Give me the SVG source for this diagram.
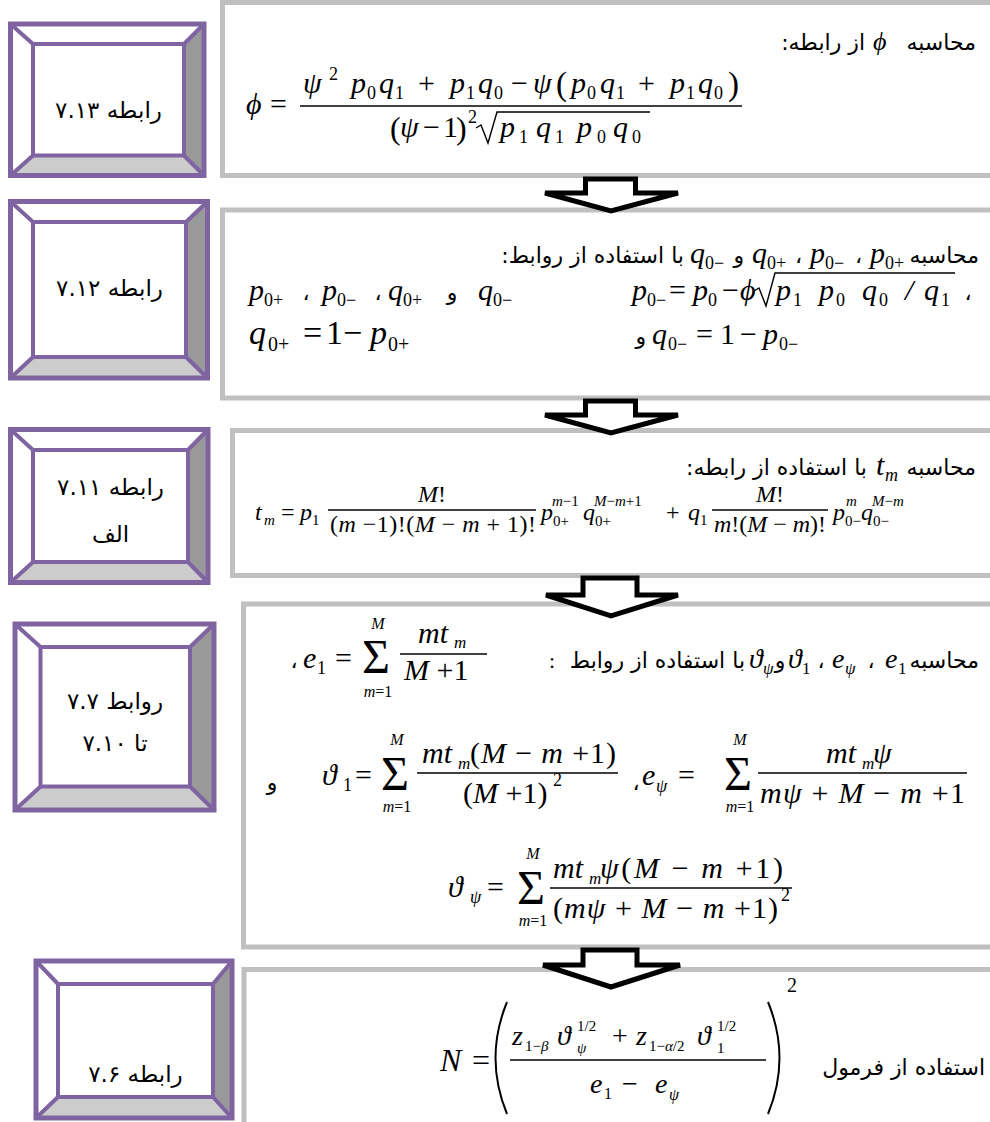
<svg xmlns="http://www.w3.org/2000/svg" width="990" height="1122" viewBox="0 0 990 1122">
<style>
.box{fill:#fff;stroke:#c0c0c0;stroke-width:5}
.arr{fill:#fff;stroke:#000;stroke-width:5;stroke-linejoin:miter}
.pv{stroke:#8064a2;stroke-width:4;fill:none}
.po{stroke:#8064a2;stroke-width:5;fill:none}
.dk{fill:#999}
.lt{fill:#ccc}
.fa{font-family:"DejaVu Sans",sans-serif;font-size:22px;fill:#000}
.lb{font-family:"DejaVu Sans",sans-serif;font-size:23px;fill:#000;text-anchor:middle}
.mi{font-family:"Liberation Serif",serif;font-style:italic;fill:#000}
.mn{font-family:"Liberation Serif",serif;font-style:normal;fill:#000}
.bar{stroke:#000;stroke-width:1.4}
.rad{fill:none;stroke:#000;stroke-width:1.4}
</style>
<rect width="990" height="1122" fill="#fff"/>
<g id="nodeA"><rect class="box" x="222.5" y="2.5" width="772" height="173"/>
<text class="fa" x="976" y="50" text-anchor="end">محاسبه</text>
<text class="mi" x="873" y="50" font-size="26">ϕ</text>
<text class="fa" x="865" y="50" text-anchor="end">از رابطه:‏</text>
<g font-size="30">
<text class="mi" x="246" y="114">ϕ</text><text class="mn" x="270" y="114">=</text>
<text class="mi" y="93"><tspan x="303">ψ</tspan><tspan x="351">p</tspan><tspan x="379">q</tspan><tspan x="450">p</tspan><tspan x="478">q</tspan><tspan x="533">ψ</tspan><tspan x="571">p</tspan><tspan x="600">q</tspan><tspan x="670">p</tspan><tspan x="698">q</tspan></text>
<text class="mn" y="93"><tspan x="418">+</tspan><tspan x="511">−</tspan><tspan x="638">+</tspan></text>
<text class="mn" y="95" font-size="33"><tspan x="556">(</tspan><tspan x="728">)</tspan></text>
<text class="mn" font-size="18"><tspan x="329" y="80">2</tspan><tspan x="367" y="99">0</tspan><tspan x="395" y="99">1</tspan><tspan x="466" y="99">1</tspan><tspan x="494" y="99">0</tspan><tspan x="587" y="99">0</tspan><tspan x="616" y="99">1</tspan><tspan x="686" y="99">1</tspan><tspan x="714" y="99">0</tspan></text>
<line class="bar" x1="300" y1="106" x2="742" y2="106"/>
<text class="mn" y="139" font-size="32"><tspan x="390">(</tspan><tspan x="456">)</tspan></text>
<text class="mi" y="137"><tspan x="400">ψ</tspan><tspan x="500">p</tspan><tspan x="536">q</tspan><tspan x="577">p</tspan><tspan x="613">q</tspan></text>
<text class="mn" y="137"><tspan x="423">−</tspan><tspan x="443">1</tspan></text>
<text class="mn" font-size="18"><tspan x="468" y="123">2</tspan><tspan x="519" y="143">1</tspan><tspan x="555" y="143">1</tspan><tspan x="597" y="143">0</tspan><tspan x="632" y="143">0</tspan></text>
<path class="rad" d="M476,128 L481,125 L488,143 L497,112 L650,112"/>
</g></g>
<g id="nodeB"><rect class="box" x="222.5" y="210" width="772" height="188"/>
<text class="fa" x="979" y="263" text-anchor="end">محاسبه</text>
<text class="mi" y="263" font-size="30"><tspan x="870">p</tspan><tspan x="810">p</tspan><tspan x="752">q</tspan><tspan x="690">q</tspan></text>
<text class="mn" y="269" font-size="18"><tspan x="885">0+</tspan><tspan x="825">0−</tspan><tspan x="767">0+</tspan><tspan x="705">0−</tspan></text>
<text class="fa" x="862" y="263" text-anchor="end">،</text>
<text class="fa" x="802" y="263" text-anchor="end">،</text>
<text class="fa" x="744" y="263" text-anchor="end">و</text>
<text class="fa" x="684" y="263" text-anchor="end">با استفاده از روابط:‏</text>
<text class="mi" y="300" font-size="30"><tspan x="249">p</tspan><tspan x="322">p</tspan><tspan x="388">q</tspan><tspan x="478">q</tspan></text>
<text class="mn" y="306" font-size="18"><tspan x="264">0+</tspan><tspan x="337">0−</tspan><tspan x="403">0+</tspan><tspan x="493">0−</tspan></text>
<text class="fa" y="300" text-anchor="middle"><tspan x="306">،</tspan><tspan x="378">،</tspan><tspan x="452">و</tspan></text>
<text class="mi" y="300" font-size="30"><tspan x="632">p</tspan><tspan x="693">p</tspan><tspan x="740">ϕ</tspan><tspan x="776">p</tspan><tspan x="819">p</tspan><tspan x="862">q</tspan><tspan x="905">/</tspan><tspan x="924">q</tspan></text>
<text class="mn" y="300" font-size="30"><tspan x="669">=</tspan><tspan x="722">−</tspan></text>
<text class="mn" y="306" font-size="18"><tspan x="647">0−</tspan><tspan x="708">0</tspan><tspan x="793">1</tspan><tspan x="836">0</tspan><tspan x="879">0</tspan><tspan x="941">1</tspan></text>
<path class="rad" d="M754,291 L759,288 L766,306 L775,273 L955,273"/>
<text class="fa" x="968" y="300" text-anchor="middle">،</text>
<text class="mi" y="344" font-size="34"><tspan x="249">q</tspan><tspan x="370">p</tspan></text>
<text class="mn" y="344" font-size="34"><tspan x="303">=</tspan><tspan x="326">1</tspan><tspan x="343">−</tspan></text>
<text class="mn" y="351" font-size="20"><tspan x="268">0+</tspan><tspan x="388">0+</tspan></text>
<text class="fa" x="646" y="344" text-anchor="end">و</text>
<text class="mi" y="344" font-size="30"><tspan x="652">q</tspan><tspan x="763">p</tspan></text>
<text class="mn" y="344" font-size="30"><tspan x="696">=</tspan><tspan x="720">1</tspan><tspan x="740">−</tspan></text>
<text class="mn" y="350" font-size="18"><tspan x="668">0−</tspan><tspan x="779">0−</tspan></text>
</g>
<g id="nodeC"><rect class="box" x="232.5" y="430.5" width="762" height="145"/>
<text class="fa" x="976" y="475" text-anchor="end">محاسبه</text>
<text class="mi" x="876" y="475" font-size="30">t</text><text class="mi" x="885" y="481" font-size="18">m</text>
<text class="fa" x="867" y="475" text-anchor="end">با استفاده از رابطه:‏</text>
<g font-size="24">
<text class="mi" x="255" y="520">t</text><text class="mi" x="264" y="525" font-size="15">m</text>
<text class="mn" x="281" y="520">=</text>
<text class="mi" x="300" y="520">p</text><text class="mn" x="312" y="525" font-size="15">1</text>
<text class="mi" x="432" y="502" text-anchor="middle">M<tspan class="mn">!</tspan></text>
<line class="bar" x1="328" y1="510" x2="536" y2="510"/>
<text class="mn" x="330" y="532" textLength="206" lengthAdjust="spacing">(<tspan class="mi">m</tspan> −1)!(<tspan class="mi">M</tspan> − <tspan class="mi">m</tspan> + 1)!</text>
<text class="mi" x="541" y="520">p</text><text class="mn" x="553" y="526" font-size="15">0+</text><text class="mi" x="552" y="506" font-size="15">m<tspan class="mn">−1</tspan></text>
<text class="mi" x="583" y="520">q</text><text class="mn" x="595" y="526" font-size="15">0+</text><text class="mi" x="594" y="506" font-size="15">M<tspan class="mn">−</tspan>m<tspan class="mn">+1</tspan></text>
<text class="mn" x="666" y="520">+</text>
<text class="mi" x="688" y="520">q</text><text class="mn" x="700" y="525" font-size="15">1</text>
<text class="mi" x="770" y="502" text-anchor="middle">M<tspan class="mn">!</tspan></text>
<line class="bar" x1="712" y1="510" x2="828" y2="510"/>
<text class="mi" x="714" y="532" textLength="112" lengthAdjust="spacing">m<tspan class="mn">!(</tspan>M<tspan class="mn"> − </tspan>m<tspan class="mn">)!</tspan></text>
<text class="mi" x="833" y="520">p</text><text class="mn" x="845" y="526" font-size="15">0−</text><text class="mi" x="846" y="506" font-size="15">m</text>
<text class="mi" x="861" y="520">q</text><text class="mn" x="873" y="526" font-size="15">0−</text><text class="mi" x="872" y="506" font-size="15">M<tspan class="mn">−</tspan>m</text>
</g></g>
<g id="nodeD"><rect class="box" x="243.5" y="604" width="751" height="343"/>
<text class="fa" x="979" y="668" text-anchor="end">محاسبه</text>
<text class="mi" y="668" font-size="28"><tspan x="885">e</tspan><tspan x="832">e</tspan><tspan x="788">ϑ</tspan><tspan x="749">ϑ</tspan></text>
<text class="mn" y="674" font-size="17"><tspan x="898">1</tspan><tspan x="802">1</tspan></text>
<text class="mi" y="674" font-size="17"><tspan x="845">ψ</tspan><tspan x="763">ψ</tspan></text>
<text class="fa" y="668" text-anchor="middle"><tspan x="871">،</tspan><tspan x="821">،</tspan><tspan x="780">و</tspan></text>
<text class="fa" x="745" y="668" text-anchor="end">با استفاده از روابط</text>
<text class="mn" x="552" y="668" font-size="22" text-anchor="middle">:</text>
<text class="fa" x="294" y="668" text-anchor="middle">،</text>
<text class="mi" x="303" y="668" font-size="30">e</text><text class="mn" x="317" y="674" font-size="18">1</text>
<text class="mn" x="335" y="668" font-size="30">=</text>
<text class="mn" x="362" y="673" font-size="48">Σ</text>
<text class="mi" x="378" y="629" font-size="16" text-anchor="middle">M</text>
<text class="mi" x="378" y="697" font-size="16" text-anchor="middle">m<tspan class="mn">=1</tspan></text>
<text class="mi" x="418" y="643" font-size="30">mt</text><text class="mi" x="454" y="648" font-size="17">m</text>
<line class="bar" x1="400" y1="654" x2="487" y2="654"/>
<text class="mi" x="404" y="680" font-size="30">M<tspan class="mn"> +1</tspan></text>
<text class="fa" x="272" y="790" text-anchor="middle">و</text>
<text class="mi" x="322" y="785" font-size="30">ϑ</text><text class="mn" x="343" y="791" font-size="18">1</text>
<text class="mn" x="355" y="785" font-size="30">=</text>
<text class="mn" x="381" y="790" font-size="48">Σ</text>
<text class="mi" x="397" y="745" font-size="16" text-anchor="middle">M</text>
<text class="mi" x="397" y="812" font-size="16" text-anchor="middle">m<tspan class="mn">=1</tspan></text>
<text class="mi" x="422" y="763" font-size="30">mt</text><text class="mi" x="458" y="769" font-size="17">m</text>
<text class="mn" x="470" y="763" font-size="30" textLength="146" lengthAdjust="spacing">(<tspan class="mi">M</tspan> − <tspan class="mi">m</tspan> +1)</text>
<line class="bar" x1="417" y1="773" x2="618" y2="773"/>
<text class="mn" x="463" y="803" font-size="30">(<tspan class="mi">M</tspan> +1)</text><text class="mn" x="553" y="786" font-size="18">2</text>
<text class="fa" x="636" y="790" text-anchor="middle">،</text>
<text class="mi" x="642" y="785" font-size="30">e</text><text class="mi" x="656" y="792" font-size="18">ψ</text>
<text class="mn" x="678" y="785" font-size="30">=</text>
<text class="mn" x="724" y="790" font-size="48">Σ</text>
<text class="mi" x="740" y="745" font-size="16" text-anchor="middle">M</text>
<text class="mi" x="740" y="812" font-size="16" text-anchor="middle">m<tspan class="mn">=1</tspan></text>
<text class="mi" x="826" y="763" font-size="30">mt</text><text class="mi" x="862" y="769" font-size="17">m</text><text class="mi" x="873" y="763" font-size="30">ψ</text>
<line class="bar" x1="758" y1="773" x2="967" y2="773"/>
<text class="mi" x="760" y="803" font-size="30" textLength="205" lengthAdjust="spacing">mψ<tspan class="mn"> + </tspan>M<tspan class="mn"> − </tspan>m<tspan class="mn"> +1</tspan></text>
<text class="mi" x="448" y="897" font-size="30">ϑ</text><text class="mi" x="470" y="903" font-size="18">ψ</text>
<text class="mn" x="487" y="897" font-size="30">=</text>
<text class="mn" x="517" y="904" font-size="48">Σ</text>
<text class="mi" x="533" y="859" font-size="16" text-anchor="middle">M</text>
<text class="mi" x="533" y="926" font-size="16" text-anchor="middle">m<tspan class="mn">=1</tspan></text>
<text class="mi" x="553" y="878" font-size="30">mt</text><text class="mi" x="589" y="884" font-size="17">m</text>
<text class="mi" x="600" y="878" font-size="30" textLength="183" lengthAdjust="spacing">ψ<tspan class="mn">(</tspan>M<tspan class="mn"> − </tspan>m<tspan class="mn"> +1)</tspan></text>
<line class="bar" x1="550" y1="888" x2="792" y2="888"/>
<text class="mn" x="553" y="918" font-size="30" textLength="225" lengthAdjust="spacing">(<tspan class="mi">mψ</tspan> + <tspan class="mi">M</tspan> − <tspan class="mi">m</tspan> +1)</text>
<text class="mn" x="781" y="901" font-size="18">2</text>
</g>
<g id="nodeE"><rect class="box" x="244" y="969.5" width="751" height="160"/>
<text class="mi" x="440" y="1071" font-size="32">N</text><text class="mn" x="472" y="1071" font-size="32">=</text>
<path d="M507,1002 Q484,1058 507,1114" fill="none" stroke="#000" stroke-width="2"/>
<path d="M768,1002 Q791,1058 768,1114" fill="none" stroke="#000" stroke-width="2"/>
<text class="mn" x="787" y="992" font-size="20">2</text>
<text class="mi" y="1045" font-size="28"><tspan x="512">z</tspan><tspan x="557">ϑ</tspan><tspan x="636">z</tspan><tspan x="697">ϑ</tspan></text>
<text class="mn" x="612" y="1045" font-size="28">+</text>
<text class="mn" x="525" y="1051" font-size="15">1−<tspan class="mi">β</tspan></text>
<text class="mn" x="649" y="1051" font-size="15">1−<tspan class="mi">α</tspan>/2</text>
<text class="mn" y="1031" font-size="15"><tspan x="577">1/2</tspan><tspan x="717">1/2</tspan></text>
<text class="mi" x="577" y="1053" font-size="15">ψ</text><text class="mn" x="717" y="1053" font-size="15">1</text>
<line class="bar" x1="510" y1="1060" x2="766" y2="1060"/>
<text class="mi" y="1093" font-size="28"><tspan x="590">e</tspan><tspan x="655">e</tspan></text>
<text class="mn" x="622" y="1093" font-size="28">−</text>
<text class="mn" x="604" y="1099" font-size="16">1</text><text class="mi" x="669" y="1100" font-size="16">ψ</text>
<text class="fa" x="985" y="1075" text-anchor="end">استفاده از فرمول</text>
</g>
<g id="p1"><polygon class="dk" points="204,24 204,175.5 184,155.5 184,44"/><polygon class="lt" points="10.5,175.5 33,155.5 184,155.5 204,175.5"/>
<path class="pv" d="M10.5,24L33,44M204,24L184,44M10.5,175.5L33,155.5M204,175.5L184,155.5"/><rect class="pv" x="33" y="44" width="151" height="111.5"/><rect class="po" x="10.5" y="24" width="193.5" height="151.5"/>
<text class="lb" x="108.5" y="118">رابطه ۷.۱۳</text></g>
<g id="p2"><polygon class="dk" points="207.5,201.5 207.5,378 186,357 186,222"/><polygon class="lt" points="10.5,378 33,357 186,357 207.5,378"/>
<path class="pv" d="M10.5,201.5L33,222M207.5,201.5L186,222M10.5,378L33,357M207.5,378L186,357"/><rect class="pv" x="33" y="222" width="153" height="135"/><rect class="po" x="10.5" y="201.5" width="197" height="176.5"/>
<text class="lb" x="109.5" y="296">رابطه ۷.۱۲</text></g>
<g id="p3"><polygon class="dk" points="208,429.5 208,582.5 188,562 188,450"/><polygon class="lt" points="10.5,582.5 33,562 188,562 208,582.5"/>
<path class="pv" d="M10.5,429.5L33,450M208,429.5L188,450M10.5,582.5L33,562M208,582.5L188,562"/><rect class="pv" x="33" y="450" width="155" height="112"/><rect class="po" x="10.5" y="429.5" width="197.5" height="153"/>
<text class="lb" x="110.5" y="495">رابطه  ۷.۱۱</text><text class="lb" x="110.5" y="542">الف</text></g>
<g id="p4"><polygon class="dk" points="214,624 214,810 190,786.5 190,647"/><polygon class="lt" points="15,810 40.5,786.5 190,786.5 214,810"/>
<path class="pv" d="M15,624L40.5,647M214,624L190,647M15,810L40.5,786.5M214,810L190,786.5"/><rect class="pv" x="40.5" y="647" width="149.5" height="139.5"/><rect class="po" x="15" y="624" width="199" height="186"/>
<text class="lb" x="115" y="709">روابط ۷.۷</text><text class="lb" x="115" y="751">تا  ۷.۱۰</text></g>
<g id="p5"><polygon class="dk" points="232,961 232,1118 213,1097 213,984"/><polygon class="lt" points="36,1118 58,1097 213,1097 232,1118"/>
<path class="pv" d="M36,961L58,984M232,961L213,984M36,1118L58,1097M232,1118L213,1097"/><rect class="pv" x="58" y="984" width="155" height="113"/><rect class="po" x="36" y="961" width="196" height="157"/>
<text class="lb" x="135.5" y="1082">رابطه ۷.۶</text></g>
<g id="connectors">
<polygon class="arr" points="585.5,179 635.5,179 635.5,193 678,193 611,211 545,193 585.5,193"/>
<polygon class="arr" points="585.5,401 635.5,401 635.5,415 678,415 611,433 545,415 585.5,415"/>
<polygon class="arr" points="583,578 637,578 637,595 678,595 611,616 546,595 583,595"/>
<polygon class="arr" points="583,950 637,950 637,965 680,965 611,987 543,965 583,965"/>
</g>
</svg>
